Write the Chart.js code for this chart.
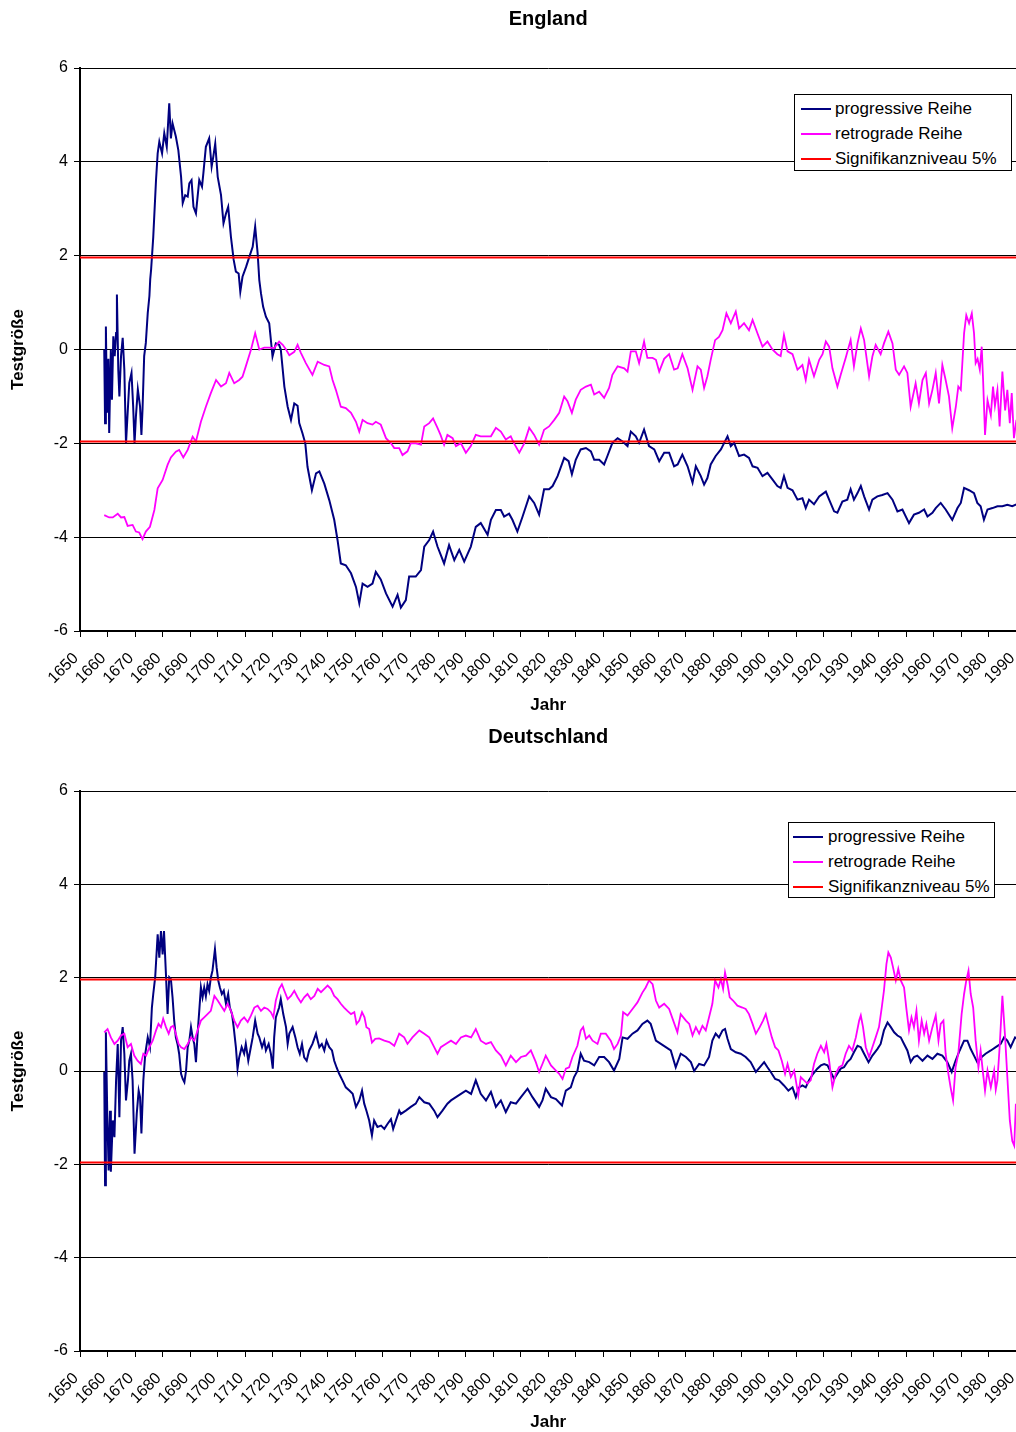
<!DOCTYPE html>
<html><head><meta charset="utf-8">
<script src="https://cdn.jsdelivr.net/npm/chart.js@4"></script>
<style>
html,body{margin:0;padding:0;background:#fff;overflow:hidden;}
#wrap{position:relative;width:1016px;height:1432px;overflow:hidden;background:#fff;}
canvas{position:absolute;left:0;}
.legend{position:absolute;background:#fff;border:1px solid #000;box-sizing:border-box;font:17px 'Liberation Sans',Arial,sans-serif;color:#000;}
.legend .row{position:absolute;left:0;height:20px;line-height:20px;white-space:nowrap;}
.legend .sw{position:absolute;top:9px;height:0;border-top:2px solid #000;}
.legend .tx{position:absolute;top:0;}
</style>
</head><body>
<div id="wrap">
<canvas id="c1"></canvas>
<canvas id="c2"></canvas>
</div>
<script>
// ---------------- data ----------------
const xLabelsFrom = 1650, xLabelsTo = 1990, xLabelStep = 10;
const sigLevel = 1.96;
const seriesLabels = ['progressive Reihe', 'retrograde Reihe', 'Signifikanzniveau 5%'];
const seriesColors = ['#000080', '#ff00ff', '#ff0000'];

// England, progressive series [year, value]
const englandProgressive = [[1658.8,0.0],[1659.1,-1.57],[1659.4,0.49],[1659.8,-1.35],[1660.3,-0.2],[1660.6,-1.78],[1661.2,0.0],[1661.6,-1.07],[1662.1,0.28],[1662.6,-0.14],[1663.1,0.35],[1663.4,1.17],[1663.9,-0.43],[1664.3,-1.0],[1664.9,-0.14],[1665.5,0.25],[1666.1,-0.43],[1666.7,-2.0],[1667.3,-1.35],[1667.9,-0.71],[1668.7,-0.5],[1669.3,-1.21],[1669.8,-2.0],[1670.3,-1.43],[1671.0,-0.85],[1671.8,-1.21],[1672.3,-1.82],[1672.7,-1.28],[1673.3,-0.14],[1673.9,0.14],[1674.6,0.78],[1675.2,1.14],[1675.5,1.5],[1675.8,1.69],[1676.6,2.4],[1677.6,3.61],[1678.2,4.18],[1678.8,4.43],[1679.8,4.18],[1680.6,4.61],[1681.5,4.32],[1682.4,5.25],[1683.0,4.5],[1683.6,4.82],[1684.8,4.54],[1685.7,4.25],[1686.7,3.68],[1687.3,3.12],[1688.2,3.29],[1689.1,3.26],[1689.7,3.54],[1690.5,3.61],[1691.2,3.04],[1692.1,2.9],[1692.7,3.26],[1693.3,3.61],[1694.3,3.47],[1694.8,3.76],[1695.7,4.32],[1696.9,4.5],[1697.8,3.9],[1698.4,4.11],[1699.1,4.39],[1700.0,3.68],[1701.2,3.29],[1702.1,2.69],[1703.0,2.9],[1703.8,3.04],[1704.8,2.4],[1705.8,1.91],[1706.6,1.66],[1707.6,1.62],[1708.2,1.23],[1709.0,1.55],[1710.3,1.76],[1711.5,1.98],[1712.7,2.19],[1713.6,2.62],[1714.5,2.05],[1715.1,1.48],[1715.7,1.2],[1716.5,0.91],[1717.5,0.7],[1718.7,0.56],[1719.9,-0.15],[1721.1,0.13],[1722.3,0.1],[1722.9,0.0],[1724.2,-0.79],[1725.4,-1.22],[1726.6,-1.5],[1727.8,-1.15],[1729.0,-1.2],[1729.6,-1.57],[1730.8,-1.79],[1731.8,-2.0],[1732.6,-2.5],[1734.2,-3.0],[1735.7,-2.64],[1736.9,-2.6],[1738.7,-2.86],[1740.5,-3.21],[1742.3,-3.63],[1743.5,-4.06],[1744.7,-4.56],[1746.5,-4.6],[1748.4,-4.77],[1750.2,-5.06],[1751.4,-5.41],[1752.6,-4.99],[1754.4,-5.06],[1756.2,-4.99],[1757.4,-4.74],[1759.2,-4.9],[1761.1,-5.2],[1763.5,-5.48],[1765.3,-5.23],[1766.5,-5.5],[1768.3,-5.34],[1769.5,-4.84],[1771.9,-4.84],[1773.8,-4.7],[1775.0,-4.2],[1776.8,-4.06],[1778.2,-3.88],[1779.8,-4.2],[1782.2,-4.56],[1784.0,-4.17],[1785.9,-4.49],[1787.7,-4.27],[1789.5,-4.52],[1791.9,-4.2],[1793.7,-3.78],[1795.5,-3.7],[1798.0,-3.95],[1799.2,-3.63],[1801.0,-3.42],[1802.8,-3.42],[1804.0,-3.56],[1805.8,-3.5],[1807.0,-3.63],[1808.8,-3.88],[1810.7,-3.56],[1813.1,-3.13],[1814.9,-3.27],[1816.7,-3.52],[1818.5,-2.98],[1820.3,-2.98],[1821.6,-2.91],[1823.4,-2.7],[1825.8,-2.31],[1827.4,-2.38],[1828.6,-2.66],[1830.0,-2.35],[1831.8,-2.13],[1833.7,-2.1],[1835.5,-2.17],[1836.7,-2.35],[1838.5,-2.35],[1840.3,-2.45],[1841.5,-2.27],[1843.3,-1.99],[1845.2,-1.89],[1847.0,-1.96],[1848.8,-2.06],[1850.0,-1.75],[1851.8,-1.85],[1853.0,-1.99],[1854.8,-1.71],[1856.6,-2.06],[1858.5,-2.13],[1860.3,-2.38],[1862.1,-2.2],[1863.9,-2.2],[1865.7,-2.49],[1867.0,-2.45],[1868.7,-2.24],[1870.6,-2.49],[1872.4,-2.84],[1873.6,-2.49],[1875.4,-2.7],[1876.6,-2.88],[1877.8,-2.74],[1879.0,-2.45],[1880.8,-2.27],[1882.7,-2.13],[1883.9,-1.99],[1885.1,-1.85],[1886.3,-2.06],[1887.5,-1.99],[1889.3,-2.27],[1891.1,-2.24],[1892.9,-2.31],[1894.2,-2.49],[1896.0,-2.52],[1897.8,-2.7],[1899.6,-2.63],[1901.4,-2.77],[1903.2,-2.91],[1904.4,-2.95],[1905.6,-2.7],[1906.9,-2.95],[1908.7,-3.0],[1910.5,-3.2],[1912.3,-3.17],[1913.5,-3.38],[1914.7,-3.2],[1916.5,-3.3],[1918.4,-3.13],[1920.8,-3.03],[1922.0,-3.2],[1923.8,-3.45],[1925.0,-3.48],[1926.8,-3.24],[1928.6,-3.2],[1929.8,-2.98],[1931.0,-3.2],[1932.3,-3.06],[1933.5,-2.91],[1934.7,-3.13],[1936.5,-3.41],[1937.7,-3.2],[1939.5,-3.13],[1941.3,-3.1],[1943.2,-3.06],[1945.0,-3.2],[1946.8,-3.45],[1948.6,-3.41],[1951.0,-3.7],[1952.8,-3.52],[1954.6,-3.48],[1956.5,-3.41],[1957.7,-3.56],[1959.5,-3.48],[1960.7,-3.38],[1962.5,-3.27],[1964.3,-3.41],[1966.7,-3.63],[1968.6,-3.38],[1969.8,-3.27],[1971.0,-2.95],[1972.8,-3.0],[1974.6,-3.06],[1975.8,-3.27],[1977.0,-3.34],[1978.2,-3.63],[1979.5,-3.41],[1981.3,-3.38],[1983.1,-3.34],[1984.9,-3.34],[1986.7,-3.31],[1988.5,-3.34],[1990.0,-3.3]];

// England, retrograde series
const englandRetrograde = [[1658.8,-3.53],[1660.6,-3.58],[1661.9,-3.58],[1663.7,-3.5],[1664.9,-3.58],[1666.1,-3.57],[1667.3,-3.76],[1669.1,-3.74],[1670.3,-3.88],[1671.5,-3.9],[1672.7,-4.04],[1673.9,-3.88],[1675.4,-3.78],[1677.0,-3.42],[1678.2,-2.96],[1680.0,-2.78],[1681.8,-2.46],[1683.0,-2.3],[1684.8,-2.18],[1686.0,-2.14],[1687.5,-2.3],[1689.1,-2.14],[1690.9,-1.86],[1692.1,-1.96],[1693.9,-1.54],[1695.7,-1.22],[1697.5,-0.93],[1699.4,-0.65],[1701.2,-0.79],[1703.0,-0.72],[1704.2,-0.5],[1706.0,-0.72],[1707.8,-0.65],[1709.0,-0.58],[1710.2,-0.36],[1712.1,0.0],[1713.6,0.35],[1715.1,0.0],[1716.9,0.04],[1718.7,0.04],[1720.5,0.03],[1722.3,0.17],[1723.6,0.1],[1724.8,0.0],[1726.0,-0.12],[1727.8,-0.05],[1729.0,0.1],[1730.2,-0.07],[1732.0,-0.29],[1734.4,-0.54],[1736.3,-0.26],[1738.7,-0.33],[1740.5,-0.36],[1741.7,-0.65],[1742.9,-0.86],[1744.7,-1.22],[1746.5,-1.25],[1748.4,-1.35],[1750.2,-1.54],[1751.4,-1.75],[1752.6,-1.5],[1754.4,-1.57],[1756.2,-1.6],[1757.4,-1.54],[1759.2,-1.6],[1761.1,-1.89],[1762.9,-2.0],[1764.1,-2.1],[1765.9,-2.1],[1767.1,-2.25],[1768.9,-2.17],[1770.1,-2.0],[1771.9,-2.0],[1773.8,-2.03],[1775.0,-1.64],[1776.8,-1.57],[1778.2,-1.47],[1779.8,-1.67],[1780.9,-1.82],[1782.2,-2.03],[1783.4,-1.82],[1785.3,-1.89],[1786.5,-2.06],[1788.3,-2.0],[1790.1,-2.2],[1791.9,-2.06],[1793.7,-1.82],[1795.5,-1.85],[1797.4,-1.85],[1799.2,-1.85],[1801.0,-1.67],[1802.8,-1.75],[1804.6,-1.92],[1806.4,-1.85],[1807.6,-2.0],[1809.5,-2.2],[1811.3,-2.0],[1813.1,-1.67],[1814.9,-1.82],[1816.7,-2.03],[1818.5,-1.71],[1820.3,-1.64],[1822.2,-1.5],[1824.0,-1.35],[1825.8,-1.0],[1827.0,-1.1],[1828.6,-1.35],[1830.0,-1.07],[1831.8,-0.86],[1833.7,-0.79],[1835.5,-0.75],[1836.7,-0.96],[1838.5,-0.9],[1840.3,-1.03],[1842.1,-0.82],[1843.3,-0.54],[1845.2,-0.36],[1847.6,-0.4],[1848.8,-0.47],[1850.0,-0.04],[1851.8,-0.04],[1853.0,-0.29],[1854.8,0.17],[1856.0,-0.18],[1857.9,-0.18],[1859.1,-0.22],[1860.3,-0.47],[1862.1,-0.2],[1863.9,-0.1],[1865.7,-0.43],[1867.0,-0.4],[1868.7,-0.1],[1870.6,-0.4],[1872.4,-0.86],[1874.2,-0.36],[1875.4,-0.43],[1876.6,-0.82],[1877.8,-0.57],[1879.0,-0.22],[1880.6,0.2],[1882.0,0.27],[1883.3,0.41],[1884.7,0.77],[1886.3,0.56],[1888.1,0.81],[1889.3,0.45],[1891.1,0.56],[1892.9,0.41],[1894.2,0.63],[1896.0,0.34],[1897.8,0.06],[1899.6,0.17],[1901.4,0.0],[1903.2,-0.1],[1904.4,-0.14],[1905.6,0.31],[1906.9,-0.04],[1908.7,-0.1],[1910.5,-0.43],[1912.3,-0.33],[1913.5,-0.65],[1914.7,-0.22],[1916.5,-0.57],[1918.4,-0.22],[1919.6,-0.1],[1920.8,0.17],[1922.0,0.06],[1923.2,-0.4],[1925.0,-0.79],[1926.2,-0.54],[1928.0,-0.18],[1929.8,0.2],[1931.0,-0.36],[1932.3,0.13],[1933.5,0.45],[1934.7,0.2],[1936.5,-0.57],[1937.7,-0.15],[1938.9,0.1],[1940.7,-0.1],[1941.9,0.13],[1943.5,0.38],[1945.0,0.13],[1946.2,-0.43],[1947.4,-0.54],[1949.2,-0.36],[1950.4,-0.5],[1951.6,-1.22],[1953.4,-0.72],[1954.6,-1.15],[1955.9,-0.65],[1957.1,-0.5],[1958.3,-1.15],[1959.5,-0.86],[1960.7,-0.5],[1961.9,-1.15],[1963.1,-0.33],[1964.3,-0.65],[1965.5,-1.0],[1966.7,-1.68],[1968.0,-1.22],[1968.9,-0.79],[1969.8,-0.86],[1971.0,0.35],[1971.8,0.73],[1972.8,0.56],[1973.8,0.77],[1974.6,0.35],[1975.2,-0.29],[1975.9,-0.2],[1976.7,-0.43],[1977.4,0.06],[1977.9,-0.65],[1978.6,-1.82],[1979.5,-1.08],[1980.7,-1.4],[1981.5,-0.79],[1982.2,-1.2],[1983.1,-0.86],[1983.9,-1.64],[1984.9,-0.47],[1985.9,-1.3],[1986.7,-0.86],[1987.6,-1.57],[1988.3,-0.93],[1989.1,-1.89],[1990.0,-1.5]];

// Deutschland, progressive series
const germanyProgressive = [[1658.8,-0.02],[1659.1,-2.45],[1659.4,0.83],[1659.9,-0.92],[1660.4,-2.13],[1660.9,-0.85],[1661.2,-2.16],[1661.9,-1.06],[1662.5,-1.42],[1663.1,-0.2],[1663.7,0.58],[1664.3,-0.99],[1664.9,0.65],[1665.5,0.94],[1666.1,0.37],[1666.7,-0.63],[1667.4,-0.2],[1667.9,0.22],[1668.5,0.37],[1669.1,-0.2],[1669.8,-1.77],[1670.6,-0.92],[1671.3,-0.42],[1671.8,-0.56],[1672.3,-1.34],[1673.0,-0.2],[1673.7,0.37],[1674.6,0.72],[1675.4,0.51],[1676.1,1.36],[1676.6,1.65],[1677.3,2.01],[1678.2,2.93],[1678.8,2.43],[1679.4,3.0],[1680.0,2.5],[1680.5,3.0],[1681.2,2.08],[1681.8,1.22],[1682.4,2.01],[1683.0,1.97],[1683.6,1.58],[1684.2,1.08],[1684.8,0.72],[1685.4,0.58],[1686.0,0.37],[1686.7,-0.06],[1687.3,-0.17],[1687.9,-0.24],[1688.5,0.0],[1689.1,0.51],[1689.7,0.65],[1690.3,0.94],[1690.9,0.72],[1691.5,0.58],[1692.1,0.19],[1692.7,0.8],[1693.3,1.29],[1693.9,1.79],[1694.5,1.58],[1695.1,1.79],[1695.7,1.6],[1696.3,1.86],[1696.9,1.72],[1697.5,2.0],[1698.1,2.15],[1699.0,2.61],[1699.6,2.22],[1700.2,1.94],[1700.8,1.79],[1701.5,1.65],[1702.2,1.72],[1703.0,1.44],[1703.8,1.65],[1704.4,1.36],[1705.2,1.22],[1705.8,0.94],[1706.6,0.51],[1707.2,0.05],[1707.8,0.29],[1708.7,0.51],[1709.6,0.37],[1710.2,0.58],[1711.1,0.22],[1711.8,0.44],[1712.7,0.72],[1713.6,1.08],[1714.5,0.8],[1715.1,0.72],[1716.1,0.51],[1716.9,0.65],[1717.5,0.44],[1718.5,0.58],[1719.3,0.37],[1720.0,0.05],[1720.5,0.72],[1721.1,1.15],[1722.3,1.36],[1722.9,1.54],[1723.8,1.22],[1724.8,0.94],[1725.4,0.58],[1726.0,0.8],[1727.2,0.94],[1728.2,0.72],[1729.0,0.51],[1729.8,0.37],[1730.6,0.58],[1731.4,0.29],[1732.3,0.22],[1733.2,0.44],[1734.4,0.58],[1735.7,0.8],[1736.3,0.65],[1736.9,0.51],[1737.8,0.58],[1738.7,0.44],[1739.5,0.65],[1740.5,0.51],[1741.5,0.44],[1742.3,0.22],[1743.2,0.07],[1744.1,-0.06],[1745.3,-0.2],[1746.5,-0.35],[1747.8,-0.42],[1749.0,-0.49],[1750.2,-0.77],[1751.4,-0.63],[1752.4,-0.42],[1753.2,-0.7],[1754.0,-0.85],[1755.0,-1.06],[1756.0,-1.38],[1756.8,-1.06],[1758.0,-1.2],[1759.3,-1.17],[1760.5,-1.24],[1761.7,-1.13],[1762.9,-1.03],[1763.7,-1.24],[1764.7,-1.06],[1765.9,-0.85],[1766.5,-0.92],[1768.3,-0.85],[1770.1,-0.77],[1771.9,-0.7],[1773.2,-0.56],[1775.0,-0.67],[1776.8,-0.7],[1778.6,-0.85],[1779.8,-0.99],[1781.6,-0.85],[1783.4,-0.7],[1784.7,-0.63],[1786.5,-0.56],[1788.3,-0.49],[1790.1,-0.42],[1792.0,-0.49],[1793.7,-0.2],[1795.5,-0.49],[1797.4,-0.63],[1799.2,-0.45],[1801.0,-0.77],[1802.8,-0.63],[1804.6,-0.88],[1806.4,-0.67],[1808.3,-0.7],[1810.1,-0.56],[1812.5,-0.38],[1814.3,-0.56],[1816.7,-0.77],[1817.9,-0.63],[1819.1,-0.38],[1821.0,-0.56],[1822.8,-0.6],[1825.0,-0.74],[1826.4,-0.42],[1828.2,-0.35],[1829.4,-0.13],[1830.6,0.0],[1831.8,0.37],[1833.0,0.22],[1834.9,0.19],[1836.7,0.12],[1838.5,0.3],[1840.3,0.3],[1842.1,0.19],[1843.9,0.01],[1845.8,0.26],[1847.0,0.72],[1848.8,0.69],[1850.6,0.8],[1852.4,0.87],[1854.2,1.01],[1856.0,1.08],[1857.2,1.01],[1859.1,0.65],[1860.9,0.58],[1862.7,0.51],[1864.5,0.44],[1866.3,0.08],[1868.1,0.37],[1870.0,0.3],[1871.8,0.19],[1873.0,0.0],[1874.8,0.15],[1876.6,0.12],[1878.4,0.3],[1879.6,0.65],[1880.8,0.8],[1882.0,0.72],[1883.3,0.87],[1884.2,0.9],[1885.1,0.69],[1886.3,0.47],[1888.1,0.4],[1889.9,0.37],[1891.7,0.3],[1893.5,0.19],[1895.4,-0.02],[1896.8,0.08],[1898.4,0.19],[1899.6,0.08],[1900.8,-0.02],[1902.4,-0.17],[1903.8,-0.2],[1905.6,-0.31],[1907.2,-0.42],[1908.7,-0.35],[1909.9,-0.56],[1911.1,-0.35],[1912.3,-0.31],[1913.5,-0.35],[1914.7,-0.2],[1916.2,-0.06],[1917.7,0.05],[1919.0,0.12],[1920.2,0.15],[1921.4,0.12],[1922.6,-0.02],[1923.8,-0.17],[1925.0,-0.06],[1926.2,0.05],[1927.4,0.08],[1928.6,0.19],[1929.8,0.26],[1931.0,0.4],[1932.3,0.54],[1933.5,0.51],[1934.7,0.37],[1936.3,0.19],[1937.7,0.33],[1939.5,0.47],[1940.7,0.58],[1941.9,0.87],[1943.2,1.04],[1944.4,0.94],[1945.6,0.83],[1946.8,0.76],[1948.0,0.72],[1949.2,0.58],[1950.4,0.44],[1951.6,0.19],[1952.8,0.3],[1954.0,0.33],[1955.9,0.22],[1957.7,0.33],[1959.5,0.26],[1961.3,0.37],[1963.1,0.33],[1964.9,0.19],[1966.5,-0.02],[1967.9,0.22],[1969.4,0.44],[1971.0,0.65],[1972.2,0.65],[1973.4,0.47],[1974.6,0.33],[1975.8,0.19],[1977.4,0.3],[1978.8,0.37],[1980.7,0.44],[1982.5,0.51],[1984.3,0.58],[1985.5,0.72],[1986.7,0.65],[1987.9,0.51],[1989.5,0.72],[1990.0,0.7]];

// Deutschland, retrograde series
const germanyRetrograde = [[1658.8,0.83],[1660.0,0.9],[1661.2,0.72],[1662.5,0.58],[1663.7,0.65],[1664.9,0.76],[1666.1,0.8],[1667.3,0.51],[1668.5,0.58],[1669.7,0.33],[1670.9,0.22],[1672.1,0.15],[1673.0,0.37],[1674.0,0.33],[1675.2,0.51],[1676.4,0.65],[1677.6,0.87],[1678.5,1.01],[1679.4,0.94],[1680.2,1.12],[1681.2,0.94],[1682.2,0.8],[1683.0,0.94],[1683.9,0.97],[1684.8,0.8],[1685.8,0.58],[1686.7,0.51],[1687.9,0.47],[1689.1,0.58],[1690.3,0.72],[1691.5,0.65],[1692.7,0.87],[1693.9,1.08],[1695.1,1.15],[1696.3,1.22],[1697.5,1.29],[1698.8,1.61],[1700.0,1.51],[1701.2,1.4],[1702.4,1.29],[1703.6,1.44],[1704.8,1.29],[1706.0,1.08],[1707.2,0.94],[1708.4,1.08],[1709.6,1.15],[1710.9,1.05],[1712.1,1.19],[1713.3,1.36],[1714.5,1.4],[1715.7,1.29],[1716.9,1.36],[1718.1,1.33],[1719.3,1.26],[1720.2,1.15],[1721.1,1.51],[1722.3,1.76],[1723.3,1.86],[1724.2,1.72],[1725.4,1.54],[1726.6,1.61],[1727.8,1.72],[1729.0,1.58],[1730.2,1.47],[1731.4,1.58],[1732.6,1.65],[1733.8,1.54],[1735.1,1.61],[1736.3,1.76],[1737.5,1.69],[1738.7,1.76],[1739.9,1.83],[1741.1,1.76],[1742.3,1.61],[1743.5,1.54],[1744.7,1.44],[1745.9,1.36],[1747.1,1.29],[1748.4,1.22],[1749.6,1.26],[1750.4,1.01],[1751.4,1.08],[1752.4,1.26],[1753.3,1.15],[1754.0,0.94],[1755.0,0.9],[1756.0,0.61],[1757.2,0.69],[1758.6,0.7],[1760.5,0.65],[1762.3,0.62],[1764.1,0.54],[1765.9,0.8],[1767.7,0.72],[1768.9,0.58],[1770.7,0.72],[1773.2,0.87],[1775.0,0.8],[1776.8,0.72],[1778.6,0.51],[1779.8,0.37],[1781.0,0.51],[1782.8,0.58],[1784.7,0.65],[1786.5,0.58],[1788.3,0.72],[1790.1,0.76],[1792.0,0.72],[1793.7,0.9],[1795.5,0.65],[1797.4,0.58],[1799.2,0.62],[1801.0,0.44],[1802.8,0.33],[1804.6,0.12],[1806.4,0.33],[1808.3,0.19],[1810.1,0.3],[1811.9,0.33],[1813.7,0.44],[1815.5,0.19],[1816.7,-0.02],[1817.9,0.15],[1819.1,0.33],[1821.0,0.12],[1822.8,0.01],[1824.0,-0.06],[1825.2,-0.17],[1826.4,0.05],[1827.6,0.08],[1828.8,0.3],[1830.6,0.54],[1831.8,0.87],[1832.7,0.94],[1833.7,0.69],[1834.9,0.76],[1836.1,0.65],[1837.9,0.58],[1839.1,0.8],[1840.9,0.8],[1842.7,0.65],[1843.9,0.47],[1845.2,0.58],[1846.4,0.76],[1847.2,1.26],[1848.8,1.19],[1850.6,1.33],[1852.4,1.47],[1854.2,1.68],[1855.4,1.79],[1856.6,1.94],[1857.9,1.86],[1859.1,1.51],[1860.3,1.36],[1862.1,1.44],[1863.9,1.33],[1865.4,1.08],[1866.9,0.83],[1868.1,1.22],[1870.0,1.08],[1871.2,1.01],[1872.4,0.76],[1873.6,0.94],[1874.8,0.8],[1876.0,0.97],[1877.2,0.87],[1878.4,1.15],[1879.6,1.44],[1880.6,1.94],[1881.8,1.79],[1882.7,1.97],[1883.5,1.76],[1884.2,2.11],[1885.1,1.86],[1885.9,1.58],[1887.1,1.51],[1888.7,1.4],[1890.5,1.36],[1891.7,1.33],[1892.9,1.22],[1894.2,1.01],[1895.4,0.8],[1896.8,0.94],[1898.0,1.08],[1899.0,1.22],[1899.9,1.01],[1901.2,0.72],[1902.4,0.51],[1903.6,0.44],[1904.8,0.22],[1906.0,-0.06],[1906.9,0.15],[1908.1,-0.13],[1909.3,0.01],[1910.1,-0.27],[1910.8,-0.52],[1911.7,-0.13],[1912.9,-0.2],[1914.1,-0.27],[1915.3,-0.2],[1916.5,0.15],[1917.7,0.37],[1919.0,0.54],[1920.2,0.4],[1921.0,0.58],[1922.0,0.22],[1923.2,-0.35],[1924.4,-0.06],[1925.6,0.08],[1926.8,0.12],[1928.0,0.37],[1929.2,0.54],[1930.4,0.44],[1931.7,0.72],[1932.9,1.08],[1933.5,1.19],[1934.3,0.94],[1935.3,0.51],[1936.5,0.3],[1937.7,0.51],[1938.9,0.72],[1940.1,0.94],[1941.1,1.36],[1941.9,1.72],[1942.8,2.29],[1943.5,2.54],[1944.4,2.43],[1945.2,2.22],[1946.2,1.94],[1947.1,2.19],[1948.0,1.94],[1949.2,1.79],[1950.0,1.36],[1951.0,0.87],[1951.9,1.15],[1952.8,0.94],[1953.7,1.29],[1954.6,0.65],[1955.6,1.08],[1956.5,0.8],[1957.3,1.01],[1958.3,0.65],[1959.5,0.94],[1960.7,1.19],[1961.7,0.65],[1962.5,1.01],[1963.5,1.08],[1964.3,0.37],[1965.3,-0.06],[1966.1,-0.35],[1967.0,-0.63],[1967.9,0.08],[1968.9,0.37],[1970.1,1.22],[1971.0,1.65],[1971.8,1.94],[1972.6,2.15],[1973.4,1.65],[1974.3,1.36],[1975.2,0.65],[1976.2,0.08],[1977.0,0.44],[1977.9,-0.06],[1978.6,-0.42],[1979.5,0.01],[1980.7,-0.35],[1981.9,0.01],[1982.5,-0.4],[1983.1,-0.2],[1983.9,0.51],[1984.9,1.61],[1985.9,0.72],[1986.7,-0.13],[1987.6,-1.06],[1988.5,-1.5],[1989.2,-1.6],[1989.8,-0.7]];

// ---------------- rendering ----------------
Chart.defaults.font.family = "'Liberation Sans', Arial, Helvetica, sans-serif";
Chart.defaults.color = '#000';

const toXY = arr => arr.map(p => ({x: p[0], y: p[1]}));

function makeChart(id, top, height, title, prog, retro, lay) {
  const cv = document.getElementById(id);
  const W = 1042;
  cv.width = W; cv.height = height;
  cv.style.top = top + 'px';
  cv.style.width = W + 'px'; cv.style.height = height + 'px';
  const line = (label, data, color, w, order) => ({
    label, data: toXY(data), borderColor: color, backgroundColor: color,
    borderWidth: w, pointRadius: 0, fill: false, tension: 0, order
  });
  const sigUp = [[xLabelsFrom, sigLevel], [xLabelsTo, sigLevel]];
  const sigLo = [[xLabelsFrom, -sigLevel], [xLabelsTo, -sigLevel]];
  return new Chart(cv, {
    type: 'line',
    data: {datasets: [
      line(seriesLabels[2], sigUp, seriesColors[2], 2, 0),
      line(seriesLabels[2], sigLo, seriesColors[2], 2, 0),
      line(seriesLabels[1], retro, seriesColors[1], 1.8, 1),
      line(seriesLabels[0], prog, seriesColors[0], 2, 2)
    ]},
    options: {
      responsive: false, animation: false, devicePixelRatio: 1,
      layout: {padding: {left: 0, right: 0, top: 0, bottom: 0}},
      plugins: {
        legend: {display: false}, tooltip: {enabled: false},
        title: {display: true, text: title, fullSize: false, color: '#000',
          font: {size: 20, weight: 'bold'}, padding: {top: 7, bottom: lay.titleBottom}}
      },
      scales: {
        x: {
          type: 'linear', min: xLabelsFrom, max: xLabelsTo,
          ticks: {stepSize: xLabelStep, autoSkip: false, maxRotation: 45, minRotation: 45,
            font: {size: 16}, color: '#000', padding: 12, labelOffset: -4, callback: v => String(v)},
          grid: {drawOnChartArea: false, drawTicks: true, tickLength: 6, color: '#000', lineWidth: 1},
          border: {color: '#000', width: 2},
          title: {display: true, text: 'Jahr', color: '#000', font: {size: 17, weight: 'bold'},
            padding: {top: 0, bottom: lay.jahrBottom}},
          afterFit: s => { s.height = lay.xHeight; }
        },
        y: {
          min: -6, max: 6,
          ticks: {stepSize: 2, font: {size: 16}, color: '#000', padding: 6},
          grid: {color: '#000', lineWidth: 1, tickLength: 6},
          border: {color: '#000', width: 2},
          title: {display: true, text: 'Testgröße', color: '#000', font: {size: 17, weight: 'bold'},
            padding: {top: 8, bottom: 0}},
          afterFit: s => { s.width = 80; }
        }
      }
    }
  });
}

function makeLegend(left, top, width, height, sw0, sw1, tx) {
  const box = document.createElement('div');
  box.className = 'legend';
  Object.assign(box.style, {left: left + 'px', top: top + 'px', width: width + 'px', height: height + 'px'});
  seriesLabels.forEach((lab, i) => {
    const row = document.createElement('div');
    row.className = 'row';
    row.style.top = (4 + i * 25) + 'px';
    row.style.width = width + 'px';
    const sw = document.createElement('div');
    sw.className = 'sw';
    Object.assign(sw.style, {left: sw0 + 'px', width: (sw1 - sw0) + 'px', borderTopColor: seriesColors[i]});
    const t = document.createElement('div');
    t.className = 'tx';
    t.style.left = tx + 'px';
    t.textContent = lab;
    row.appendChild(sw); row.appendChild(t);
    box.appendChild(row);
  });
  document.getElementById('wrap').appendChild(box);
}

makeChart('c1', 0, 718, 'England', englandProgressive, englandRetrograde,
  {titleBottom: 37, xHeight: 87, jahrBottom: 2});
makeChart('c2', 718, 718, 'Deutschland', germanyProgressive, germanyRetrograde,
  {titleBottom: 42, xHeight: 85, jahrBottom: 3});
makeLegend(794, 94, 218, 77, 6, 36, 40);
makeLegend(788, 822, 207, 76, 4, 34, 39);
</script>
</body></html>
